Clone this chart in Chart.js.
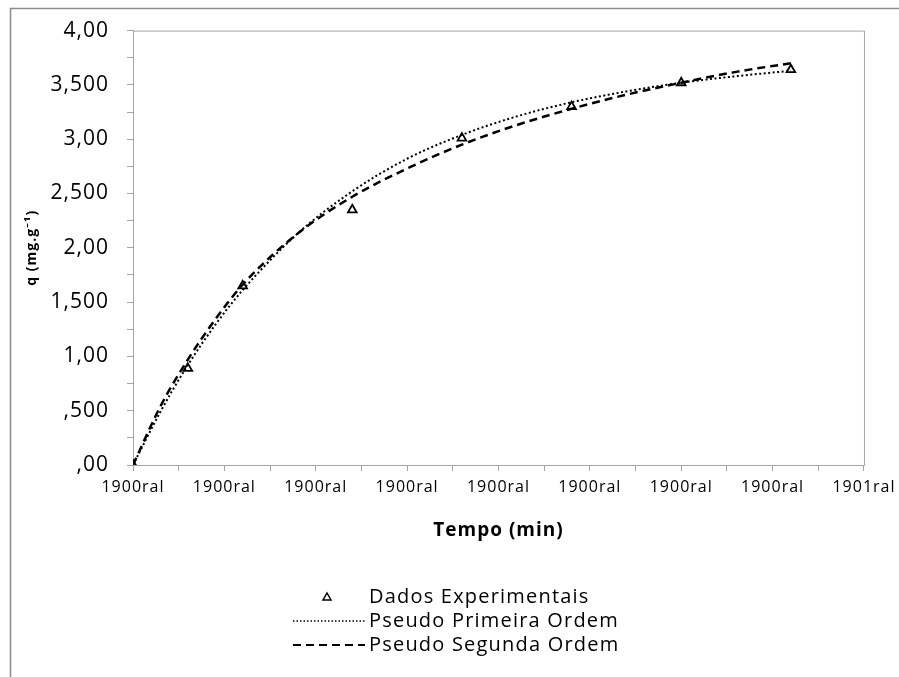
<!DOCTYPE html>
<html>
<head>
<meta charset="utf-8">
<script src="https://cdn.jsdelivr.net/npm/chart.js@4/dist/chart.umd.min.js"></script>
<style>
  body { margin: 0; background: #fff; }
  canvas { display: block; }
</style>
</head>
<body>
<canvas id="grafico" width="899" height="677"></canvas>
<script>
// Dados experimentais (tempo em min, q em mg/g)
const tempoExp = [0, 30, 60, 120, 180, 240, 300, 360];
const qExp = [0, 0.89, 1.65, 2.35, 3.01, 3.30, 3.52, 3.64];

// Curvas dos modelos
const tempoModelo = [0, 15, 30, 45, 60, 90, 120, 150, 180, 210, 240, 270, 300, 330, 360];
const qPrimeira = [0, 0.49, 0.92, 1.29, 1.61, 2.13, 2.52, 2.82, 3.04, 3.21, 3.34, 3.44, 3.52, 3.58, 3.63];
const qSegunda = [0, 0.54, 0.97, 1.34, 1.66, 2.13, 2.47, 2.73, 2.95, 3.13, 3.28, 3.41, 3.52, 3.62, 3.70];

// Rotulos dos eixos (formato estranho do original)
const xTickLabels = ['1900ral', '1900ral', '1900ral', '1900ral', '1900ral', '1900ral', '1900ral', '1900ral', '1901ral'];
const yTickLabels = [',00', ',500', '1,00', '1,500', '2,00', '2,500', '3,00', '3,500', '4,00'];

const fonte = '"Open Sans", "Noto Sans", sans-serif';

function pontos(xs, ys) {
    return xs.map((x, i) => ({ x: x, y: ys[i] }));
}

// Moldura externa, borda da area do grafico e legenda desenhada a mao
const extras = {
    id: 'extras',
    beforeDraw(chart) {
        const ctx = chart.ctx;
        const a = chart.chartArea;
        ctx.save();
        ctx.strokeStyle = '#8c8c8c';
        ctx.lineWidth = 1.5;
        ctx.strokeRect(10.5, 8.5, 1000, 1000);
        ctx.strokeStyle = '#a6a6a6';
        ctx.lineWidth = 1;
        ctx.strokeRect(a.left + 0.5, a.top + 0.5, a.right - a.left, a.bottom - a.top);
        ctx.restore();
        // texto dos eixos um pouco mais espacado, como no original
        ctx.letterSpacing = '1px';
    },
    afterDraw(chart) {
        const ctx = chart.ctx;
        const ds = chart.data.datasets;
        const linhasY = [597, 621, 645];
        ctx.save();
        ctx.font = '20px ' + fonte;
        ctx.letterSpacing = '1.2px';
        ctx.fillStyle = '#000';
        ctx.textBaseline = 'middle';
        ds.forEach((d, i) => {
            const y = linhasY[i];
            if (i === 0) {
                ctx.beginPath();
                ctx.moveTo(327, y - 4);
                ctx.lineTo(331, y + 3);
                ctx.lineTo(323, y + 3);
                ctx.closePath();
                ctx.strokeStyle = '#000';
                ctx.lineWidth = 1.5;
                ctx.stroke();
            } else {
                ctx.beginPath();
                ctx.setLineDash(i === 1 ? [1.5, 2] : [8, 5]);
                ctx.lineWidth = i === 1 ? 1.5 : 2;
                ctx.strokeStyle = '#000';
                ctx.moveTo(293, y);
                ctx.lineTo(365, y);
                ctx.stroke();
                ctx.setLineDash([]);
            }
            ctx.fillText(d.label, 369, y);
        });
        ctx.restore();
        ctx.letterSpacing = '0px';
    }
};

new Chart(document.getElementById('grafico'), {
    type: 'scatter',
    data: {
        datasets: [{
            label: 'Dados Experimentais',
            data: pontos(tempoExp, qExp),
            pointStyle: 'triangle',
            pointRadius: 5,
            pointBorderWidth: 1.8,
            pointBorderColor: '#000',
            pointBackgroundColor: 'rgba(255,255,255,0)',
            showLine: false,
            order: 0
        }, {
            label: 'Pseudo Primeira Ordem',
            data: pontos(tempoModelo, qPrimeira),
            showLine: true,
            borderColor: '#000',
            borderWidth: 2,
            borderDash: [2, 2.5],
            pointRadius: 0,
            cubicInterpolationMode: 'monotone',
            order: 1
        }, {
            label: 'Pseudo Segunda Ordem',
            data: pontos(tempoModelo, qSegunda),
            showLine: true,
            borderColor: '#000',
            borderWidth: 2.5,
            borderDash: [8, 5],
            pointRadius: 0,
            cubicInterpolationMode: 'monotone',
            order: 2
        }]
    },
    options: {
        responsive: false,
        animation: false,
        layout: { padding: { left: 10, top: 28, right: 33, bottom: 135 } },
        plugins: {
            legend: { display: false },
            tooltip: { enabled: false }
        },
        scales: {
            x: {
                type: 'linear',
                min: 0,
                max: 400,
                afterFit: (s) => { s.height = 77; },
                border: { display: true, color: '#a6a6a6', width: 1 },
                grid: { drawOnChartArea: false, drawTicks: true, tickLength: 6, color: '#a6a6a6' },
                ticks: {
                    stepSize: 25,
                    autoSkip: false,
                    maxRotation: 0,
                    padding: 7,
                    color: '#000',
                    font: { family: fonte, size: 16 },
                    callback: (v) => (v % 50 === 0 ? xTickLabels[v / 50] : '')
                },
                title: {
                    display: true,
                    text: 'Tempo (min)',
                    color: '#000',
                    padding: { top: 0, bottom: 0 },
                    font: { family: fonte, size: 19, weight: 'bold' }
                }
            },
            y: {
                min: 0,
                max: 4,
                afterFit: (s) => { s.width = 123; },
                border: { display: true, color: '#a6a6a6', width: 1 },
                grid: { drawOnChartArea: false, drawTicks: true, tickLength: 6, color: '#a6a6a6' },
                ticks: {
                    stepSize: 0.25,
                    autoSkip: false,
                    padding: 18,
                    color: '#000',
                    font: { family: fonte, size: 21 },
                    callback: (v) => {
                        const k = v * 2;
                        return Math.abs(k - Math.round(k)) < 1e-6 ? yTickLabels[Math.round(k)] : '';
                    }
                },
                title: {
                    display: true,
                    text: 'q (mg.g⁻¹)',
                    color: '#000',
                    padding: { top: 14, bottom: 0 },
                    font: { family: fonte, size: 14, weight: 'bold' }
                }
            }
        }
    },
    plugins: [extras]
});
</script>
</body>
</html>
